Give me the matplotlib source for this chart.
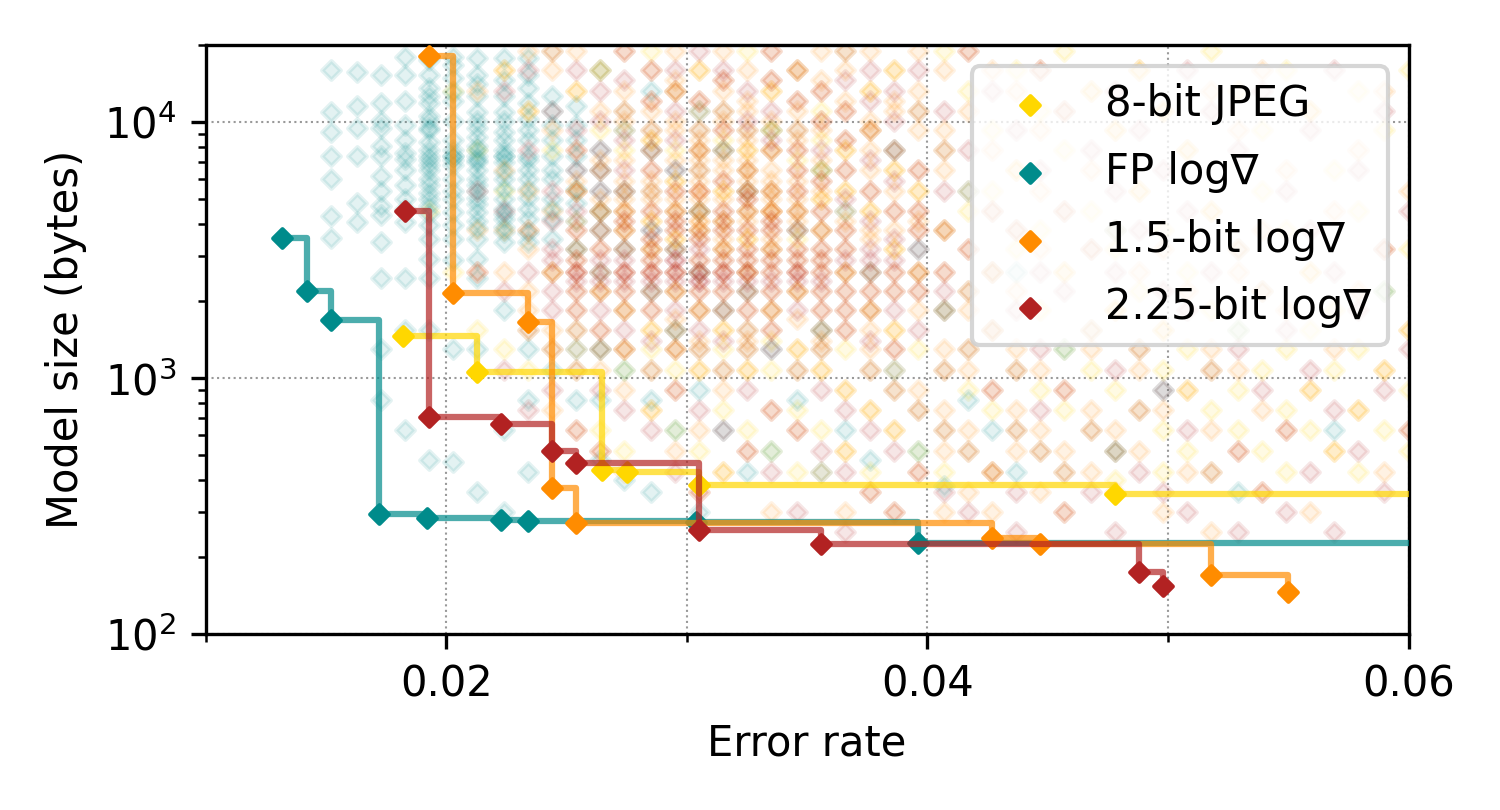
import numpy as np
import matplotlib.pyplot as plt
from matplotlib.ticker import MultipleLocator

# Pareto frontier per method (error rate, model size in bytes)
jpeg_err = [0.0182, 0.0213, 0.0265, 0.0275, 0.0305, 0.0478]
jpeg_size = [1460, 1055, 437, 430, 382, 352]

fp_err = [0.0132, 0.0142, 0.0152, 0.0172, 0.0192, 0.0223, 0.0234, 0.0304, 0.0396]
fp_size = [3520, 2190, 1685, 294, 284, 279, 277, 275, 227]

b15_err = [0.0193, 0.0203, 0.0234, 0.0244, 0.0254, 0.0427, 0.0447, 0.0518, 0.0550]
b15_size = [18100, 2150, 1655, 372, 272, 237, 225, 170, 146]

b225_err = [0.0183, 0.0193, 0.0223, 0.0244, 0.0254, 0.0305, 0.0356, 0.0488, 0.0498]
b225_size = [4490, 704, 661, 518, 466, 255, 225, 175, 154]

# all trained models: error rate -> model sizes found in that column
jpeg_cloud = {
    0.0193: [4500], 0.0203: [13300, 2600], 0.0213: [7800, 1550],
    0.0224: [16000, 5400, 1300], 0.0234: [11100, 3800, 1550, 1080],
    0.0244: [19000, 7800, 2600, 1300], 0.0254: [13300, 5400, 3200, 1550, 1080],
    0.0264: [16000, 9300, 4500, 2200, 1300, 630],
    0.0274: [11100, 7800, 4500, 3800, 1850, 1300, 1080, 520],
    0.0285: [19000, 9300, 8500, 5400, 4100, 3200, 1550, 1300, 1080, 750],
    0.0295: [13300, 7800, 5900, 4500, 3500, 2200, 1550, 1300, 1080, 630],
    0.0305: [16000, 9300, 7800, 6500, 4500, 3800, 1850, 1300, 1080, 520],
    0.0315: [11100, 8500, 7800, 5400, 4100, 3200, 1550, 1300, 1080, 750, 430],
    0.0325: [19000, 9300, 7800, 6500, 4500, 3500, 2600, 1550, 1300, 1080, 630],
    0.0335: [13300, 9300, 7800, 5400, 4500, 3200, 1850, 1400, 1080, 520],
    0.0346: [16000, 9300, 7100, 4500, 3500, 2200, 1300, 1080, 750, 430],
    0.0356: [11100, 8500, 6500, 5000, 3800, 1550, 1300, 1080, 630],
    0.0366: [19000, 7800, 5400, 2600, 1300, 900, 520],
    0.0376: [13300, 9300, 4500, 1850, 1080, 750, 430],
    0.0386: [16000, 6500, 3200, 1550, 900, 630],
    0.0396: [11100, 5400, 2600, 1300, 750, 520],
    0.0407: [19000, 7800, 3800, 1850, 1080, 630, 430],
    0.0417: [13300, 4500, 2200, 1300, 900, 520],
    0.0427: [9300, 5400, 2600, 1550, 750, 430],
    0.0437: [16000, 6500, 3200, 1080, 630],
    0.0447: [11100, 3800, 1850, 900, 520],
    0.0457: [19000, 7800, 2600, 1300, 750, 430],
    0.0468: [13300, 4500, 1550, 1080, 630],
    0.0478: [9300, 3200, 1850, 900, 520, 400],
    0.0488: [16000, 5400, 2200, 1300, 750],
    0.0498: [11100, 3800, 1550, 1080, 630, 430],
    0.0508: [7800, 2600, 1300, 900, 520],
    0.0518: [19000, 4500, 1850, 1080, 750, 430],
    0.0529: [13300, 3200, 1550, 900, 630],
    0.0539: [9300, 5400, 2200, 1080, 520],
    0.0549: [16000, 3800, 1300, 750, 430],
    0.0559: [11100, 2600, 1550, 900, 630],
    0.0569: [6500, 1850, 1080, 520],
    0.0579: [13300, 4500, 1300, 750, 430],
    0.0590: [9300, 2200, 1080, 630],
    0.0600: [16000, 3200, 1550, 900, 520],
}

fp_cloud = {
    0.0152: [16000, 11000, 9200, 7400, 6000, 4300, 3540],
    0.0163: [15700, 11600, 9500, 7400, 4850, 4070],
    0.0173: [15300, 11900, 10100, 9500, 8100, 7400, 6200, 5400, 4720, 4330,
             3400, 2460, 1300, 820],
    0.0183: [18000, 15300, 12100, 9800, 8500, 7600, 7200, 6500, 5700, 5000,
             4590, 4070, 2460, 1550, 630],
    0.0193: [18000, 17500, 15300, 13600, 12700, 11900, 10600, 10100, 9500, 9300,
             8400, 7800, 7400, 7100, 6800, 6500, 6000, 5700, 5300, 5000, 4720,
             4400, 3960, 3500, 2930, 2460, 1550, 480],
    0.0203: [18000, 16700, 14900, 13100, 12100, 10100, 8500, 7800, 7400, 7400,
             7100, 6800, 6000, 5400, 5000, 4450, 3960, 3500, 2900, 1300, 470],
    0.0213: [17800, 15300, 14100, 12700, 11000, 10100, 9500, 8800, 8100, 7800,
             7400, 7100, 7000, 6500, 6000, 5700, 5400, 5050, 4800, 4450, 4100,
             3850, 3500, 2930, 2460, 1300, 360],
    0.0224: [17800, 14600, 12700, 11000, 10100, 9200, 8500, 7800, 7400, 7400,
             7000, 6400, 6000, 5500, 5000, 4590, 4400, 4200, 3900, 3730, 3400,
             1850, 630, 300],
    0.0234: [17800, 15300, 13600, 11900, 10300, 9300, 8500, 7400, 7100, 6500,
             6000, 5500, 5050, 4600, 4200, 3700, 3400, 1300, 820, 430],
    0.0244: [12700, 11100, 9800, 8500, 7400, 6500, 6000, 5000, 4600, 4200, 3500,
             1080, 520],
    0.0254: [11600, 9800, 8500, 7400, 6500, 5500, 4850, 4100, 3200, 1300, 820],
    0.0264: [16000, 7800, 6500, 5400, 4500, 3800, 2600, 1300, 820, 480],
    0.0274: [9300, 5400, 3200, 1080, 400],
    0.0285: [13300, 7800, 3800, 2200, 820, 360],
    0.0295: [6500, 3200, 1550, 630],
    0.0305: [11100, 4500, 2600, 900, 300],
    0.0315: [7800, 1850, 630], 0.0325: [5400, 2200, 430], 0.0335: [9300, 1300, 520],
    0.0346: [3800, 820], 0.0356: [6500, 1550, 430], 0.0366: [4500, 630],
    0.0376: [2600, 480], 0.0386: [7800, 1080], 0.0396: [3200, 520],
    0.0407: [1850, 380], 0.0417: [5400, 820], 0.0427: [630], 0.0437: [2600, 430],
    0.0457: [1300], 0.0478: [3800, 520], 0.0498: [900], 0.0529: [1550, 360],
    0.0569: [630], 0.0590: [2200],
}

b15_cloud = {
    0.0213: [13300, 3800, 2600], 0.0224: [16000, 6500, 3800, 2600],
    0.0234: [19000, 11100, 5400, 3200, 2200, 1850],
    0.0244: [16000, 9300, 4500, 2600, 1550, 750],
    0.0254: [19000, 13300, 7800, 5900, 5400, 4100, 3800, 2900, 2600, 2200, 1850,
             1300, 630],
    0.0264: [16000, 11100, 7100, 6500, 5000, 4500, 3800, 3200, 2600, 2200, 1550,
             1080, 520],
    0.0274: [19000, 13300, 10100, 9300, 7100, 5900, 5400, 5000, 4500, 4100, 3800,
             3200, 2600, 2200, 1850, 1300, 900, 430],
    0.0285: [16000, 12100, 11100, 8500, 7800, 6500, 5900, 5000, 4500, 4100, 3500,
             3200, 2900, 2600, 2200, 1850, 1550, 750],
    0.0295: [19000, 14600, 13300, 10100, 9300, 7100, 5900, 5400, 5000, 4500, 4100,
             3800, 3500, 3200, 2600, 2200, 1700, 1300, 900, 520],
    0.0305: [16000, 12100, 11100, 8500, 7800, 7100, 5900, 5400, 5400, 5000, 4500,
             4100, 4100, 3800, 3500, 2900, 2600, 2200, 1850, 1400, 1080, 630, 360],
    0.0315: [19000, 14600, 13300, 10100, 9300, 7100, 6500, 5900, 5400, 5000, 4500,
             4100, 3800, 3500, 3200, 2900, 2600, 2200, 1850, 1550, 900, 430],
    0.0325: [16000, 12100, 11100, 8500, 7800, 7100, 6500, 5900, 5400, 5400, 5000,
             4500, 4100, 3800, 3500, 3200, 2900, 2600, 2200, 1850, 1400, 1080, 520],
    0.0335: [19000, 14600, 13300, 10100, 9300, 7800, 6500, 5900, 5400, 5000, 4500,
             4500, 4100, 3800, 3500, 3200, 2900, 2600, 2200, 1850, 1550, 750, 300],
    0.0346: [16000, 12100, 11100, 8500, 7800, 6500, 5900, 5400, 5000, 4500, 4100,
             3800, 3200, 2900, 2600, 2200, 1700, 1300, 630],
    0.0356: [19000, 14600, 13300, 10100, 9300, 7100, 6500, 5900, 5400, 5000, 4500,
             3800, 3200, 2900, 2600, 2200, 1850, 1400, 1080, 430],
    0.0366: [16000, 12100, 11100, 8500, 7800, 6500, 5400, 4500, 4100, 3800, 3200,
             2600, 2200, 1850, 1550, 900, 520, 300],
    0.0376: [19000, 13300, 10100, 9300, 7800, 6500, 5400, 4500, 3800, 3500, 2600,
             2200, 1850, 1550, 1300, 750, 360],
    0.0386: [16000, 12100, 11100, 7800, 6500, 5400, 4500, 3800, 3200, 2600, 2200,
             1550, 1300, 1080, 630, 300],
    0.0396: [19000, 13300, 9300, 6500, 5400, 4500, 4100, 3800, 2600, 2200, 1850,
             900, 430],
    0.0407: [16000, 9300, 6500, 3800, 2600, 1300, 750, 520, 300],
    0.0417: [19000, 11100, 5400, 3200, 1850, 1080, 630, 360],
    0.0427: [16000, 7800, 4500, 2600, 1550, 900, 430, 300],
    0.0437: [13300, 6500, 3800, 2200, 1300, 750, 520],
    0.0447: [16000, 9300, 5400, 3200, 1080, 630, 360],
    0.0457: [11100, 4500, 2600, 900, 520, 300],
    0.0468: [13300, 6500, 3200, 1300, 750, 430],
    0.0478: [9300, 3800, 1850, 630, 360],
    0.0488: [16000, 5400, 2600, 1080, 520],
    0.0498: [11100, 3200, 1550, 750, 300],
    0.0508: [7800, 2200, 900, 430],
    0.0518: [13300, 4500, 1300, 630, 250],
    0.0529: [9300, 2600, 1080, 520],
    0.0539: [16000, 3800, 750, 360],
    0.0549: [6500, 1850, 630],
    0.0559: [11100, 2600, 900, 300],
    0.0569: [4500, 1300, 520],
    0.0579: [7800, 2200, 750],
    0.0590: [13300, 3200, 1080, 430],
    0.0600: [5400, 1550, 630],
}

b225_cloud = {
    0.0213: [5400, 2600], 0.0224: [13300, 4500, 2200, 1080],
    0.0234: [16000, 7800, 3800, 2600, 1550, 750],
    0.0244: [19000, 11100, 5400, 4100, 3200, 2900, 2600, 2200, 1850, 1300, 900],
    0.0254: [16000, 9300, 7800, 6500, 5400, 4500, 3800, 3200, 2900, 2600, 2600,
             2400, 2200, 1850, 1550, 1080, 630],
    0.0264: [13300, 10100, 7800, 6500, 5400, 4500, 3800, 3200, 2900, 2600, 2400,
             2200, 1850, 1550, 1300, 900, 520],
    0.0274: [19000, 14600, 11100, 8500, 6500, 5400, 4500, 4100, 3800, 3200, 2900,
             2600, 2600, 2400, 2200, 1850, 1550, 1300, 750],
    0.0285: [16000, 12100, 9300, 7800, 6500, 5400, 4500, 3800, 3500, 3200, 2900,
             2600, 2600, 2400, 2200, 1850, 1400, 1080, 630],
    0.0295: [16000, 13300, 11100, 8500, 6500, 5400, 4500, 4100, 3800, 3200, 2900,
             2900, 2600, 2600, 2400, 2200, 1850, 1550, 1300, 900, 430],
    0.0305: [19000, 12100, 9300, 7800, 6500, 5400, 4500, 3800, 3500, 3200, 2900,
             2600, 2600, 2400, 2400, 2200, 1850, 1550, 1300, 750, 360],
    0.0315: [16000, 14600, 11100, 9300, 7800, 5900, 4500, 4100, 3800, 3200, 2900,
             2600, 2600, 2400, 2200, 1850, 1400, 1080, 630],
    0.0325: [13300, 10100, 9300, 6500, 5400, 5000, 4500, 3800, 3200, 2900, 2600,
             2600, 2400, 2200, 1850, 1550, 1300, 900, 520],
    0.0335: [19000, 14600, 11100, 8500, 7800, 5400, 4500, 4100, 3800, 3200, 2900,
             2600, 2400, 2200, 1850, 1550, 1300, 750, 430],
    0.0346: [16000, 12100, 9300, 7800, 6500, 5400, 4500, 3800, 3200, 2900, 2600,
             2600, 2400, 2200, 1850, 1080, 630, 300],
    0.0356: [13300, 10100, 7800, 5900, 4500, 3800, 3200, 2900, 2600, 2400, 2200,
             1850, 1550, 1300, 900, 520],
    0.0366: [19000, 14600, 11100, 8500, 6500, 5000, 3800, 3200, 2900, 2600, 2200,
             1850, 1550, 750, 430, 250],
    0.0376: [16000, 12100, 9300, 7100, 5400, 4100, 3200, 2900, 2600, 2200, 1850,
             1400, 1080, 630, 360],
    0.0386: [13300, 10100, 7800, 5900, 4500, 3500, 2900, 2600, 2200, 1850, 1300,
             900, 520, 300],
    0.0396: [16000, 11100, 6500, 4500, 3800, 3200, 2600, 2200, 1550, 750, 430],
    0.0407: [11100, 7800, 5400, 3800, 2600, 2200, 1850, 1080, 630, 360],
    0.0417: [19000, 7800, 3200, 2200, 1300, 520, 300],
    0.0427: [13300, 4500, 2600, 1550, 900, 430],
    0.0437: [9300, 3800, 1850, 1080, 630, 360, 250],
    0.0447: [16000, 6500, 2600, 1300, 750, 520],
    0.0457: [11100, 4500, 2200, 900, 430, 300],
    0.0468: [7800, 3200, 1550, 630, 360],
    0.0478: [13300, 5400, 2600, 1080, 520, 250],
    0.0488: [9300, 3800, 1300, 750, 430],
    0.0498: [6500, 2200, 900, 360],
    0.0508: [16000, 4500, 1850, 630, 300],
    0.0518: [11100, 2600, 1080, 430],
    0.0529: [7800, 3200, 1300, 520, 250],
    0.0539: [13300, 2200, 900, 360],
    0.0549: [5400, 1550, 630, 300],
    0.0559: [9300, 3800, 1080, 430],
    0.0569: [16000, 2600, 750, 250],
    0.0579: [6500, 1850, 520],
    0.0590: [11100, 3200, 900, 360],
    0.0600: [4500, 1300, 630],
}

labels = ['8-bit JPEG', 'FP log∇', '1.5-bit log∇', '2.25-bit log∇']
colors = ['gold', 'darkcyan', 'darkorange', 'firebrick']
X_MAX = 0.06


def flatten(cloud):
    xs, ys = [], []
    for err, sizes in cloud.items():
        xs += [err] * len(sizes)
        ys += sizes
    return xs, ys


def main():
    fig, ax = plt.subplots(figsize=(5, 2.7), dpi=300)
    fig.subplots_adjust(left=0.137, right=0.939, bottom=0.217, top=0.944)

    clouds = [jpeg_cloud, fp_cloud, b15_cloud, b225_cloud]
    for cloud, c in zip(clouds, colors):
        xs, ys = flatten(cloud)
        ax.scatter(xs, ys, marker='D', s=10, color=c, alpha=0.11, zorder=1)

    fronts = [(jpeg_err, jpeg_size, True), (fp_err, fp_size, True),
              (b15_err, b15_size, False), (b225_err, b225_size, False)]
    for (xs, ys, extend), c, lab in zip(fronts, colors, labels):
        lx, ly = list(xs), list(ys)
        if extend:
            lx.append(X_MAX)
            ly.append(ys[-1])
        ax.plot(lx, ly, drawstyle='steps-post', color=c, alpha=0.7, lw=1.5, zorder=3)
        ax.scatter(xs, ys, marker='D', s=10, color=c, label=lab, zorder=3)

    ax.set_yscale('log')
    ax.set_xlim(0.01, X_MAX)
    ax.set_ylim(100, 20000)
    ax.xaxis.set_major_locator(MultipleLocator(0.02))
    ax.xaxis.set_minor_locator(MultipleLocator(0.01))
    ax.xaxis.grid(True, which='both', linestyle=':', color='0.6', lw=0.5)
    ax.yaxis.grid(True, which='major', linestyle=':', color='0.6', lw=0.5)
    ax.set_axisbelow(True)
    ax.set_xlabel('Error rate')
    ax.set_ylabel('Model size (bytes)')
    ax.legend(loc='upper right', labelspacing=0.62)
    fig.savefig('out.png')


if __name__ == '__main__':
    main()
